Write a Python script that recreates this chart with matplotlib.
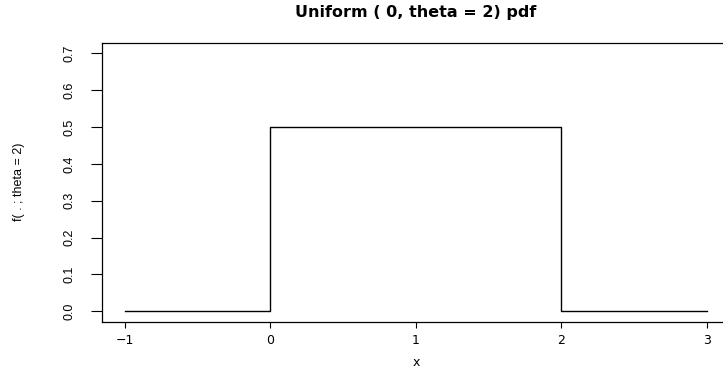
import numpy as np
import matplotlib
matplotlib.use("Agg")
import matplotlib.pyplot as plt

# breakpoints of the uniform(0, theta) density, theta = 2
x_pts = [-1, 0, 2, 3]
dens = [0.0, 0.5, 0.0, 0.0]
xticks = [-1, 0, 1, 2, 3]
yticks = [0.0, 0.1, 0.2, 0.3, 0.4, 0.5, 0.6, 0.7]

plt.rcParams['font.family'] = ['Liberation Sans', 'DejaVu Sans']
narrow = ['Liberation Sans Narrow', 'Liberation Sans']
wide = ['DejaVu Sans']

fig = plt.figure(figsize=(7.23, 3.69), dpi=100)
# R style box; right edge falls outside the picture
ax = fig.add_axes([101.7/723, (369-321.5)/369, (730-101.7)/723, (321.5-43)/369])

ax.plot(x_pts, dens, drawstyle='steps-post', color='black', lw=1)

ax.set_xlim(-1.16, 3.16)
ax.set_ylim(-0.028, 0.728)

ax.set_xticks(xticks)
ax.set_xticklabels([('\u2212' if t < 0 else '') + str(abs(t)) for t in xticks],
                   fontsize=9, family=wide)
ax.set_yticks(yticks)
ax.set_yticklabels(['%.1f' % t for t in yticks], fontsize=9, rotation=90,
                   va='center', family=narrow)
ax.tick_params(axis='x', length=4.3, width=0.8, pad=5)
ax.tick_params(axis='y', length=8, width=0.8, pad=11)

for s in ax.spines.values():
    s.set_linewidth(0.9)

ax.set_xlabel('x', fontsize=9, family=wide)
ax.xaxis.set_label_coords(0.5, -0.125)
ax.set_ylabel('f( . ; theta = 2)', fontsize=9, family=narrow)
ax.yaxis.set_label_coords(-0.122, 0.5)
fig.text(416/723, 1 - 13/369, 'Uniform ( 0, theta = 2) pdf', ha='center', va='center',
         fontsize=11.5, fontweight='bold', family=wide)

fig.savefig('out.png', dpi=100)
